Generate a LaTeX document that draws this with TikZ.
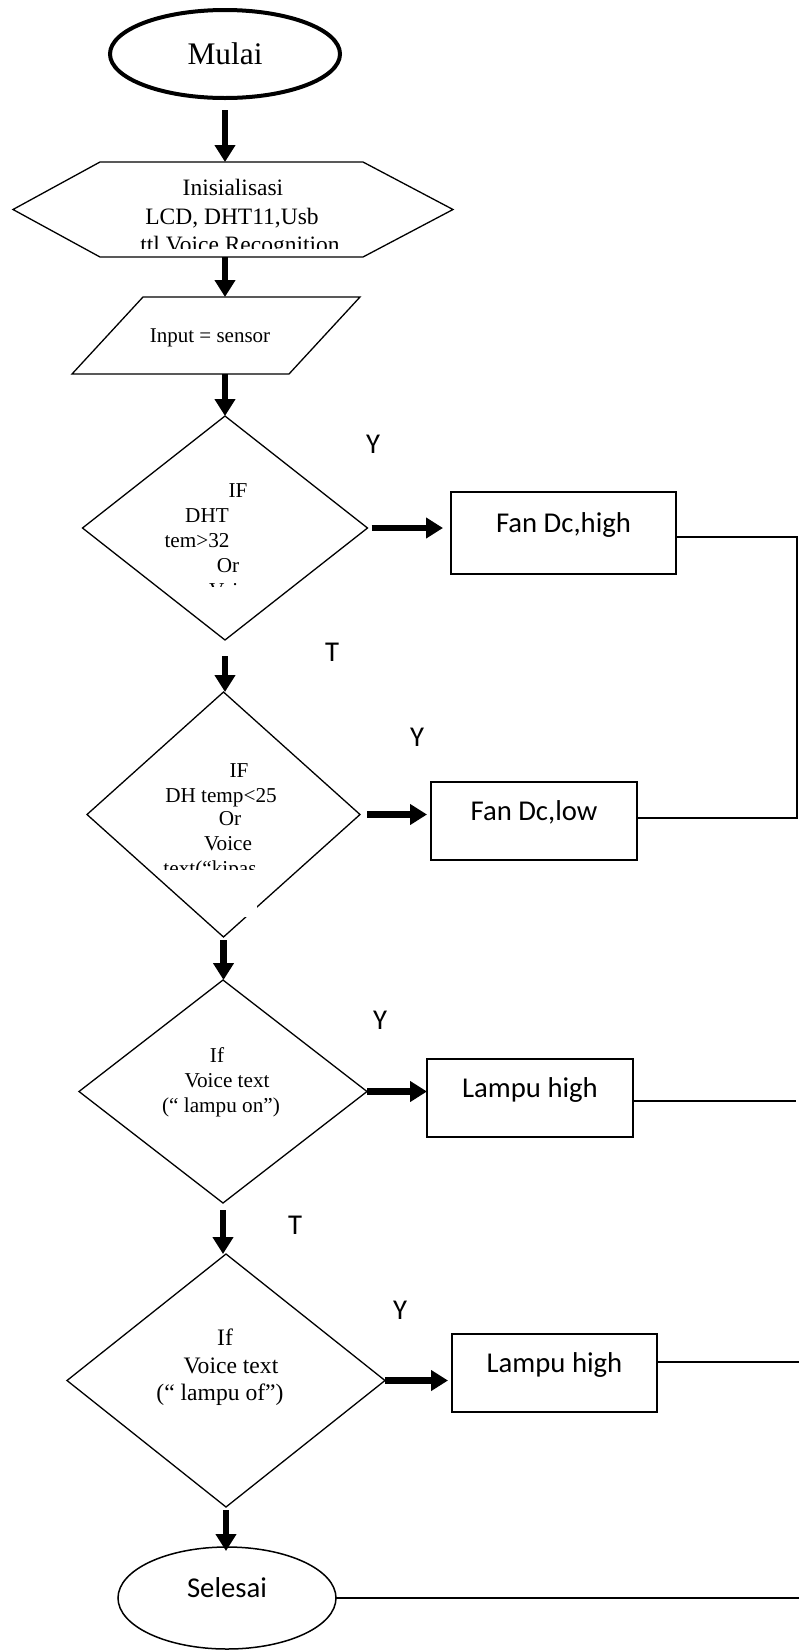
\documentclass[tikz,border=0pt]{standalone}
\usepackage{fontspec}
\setmainfont{Liberation Serif}
\newfontfamily\calibri{Carlito}
\usetikzlibrary{shapes.geometric,
	arrows.meta,
	calc,
	positioning}

\tikzset{
	flow/.style={line width=6.5pt, -{Triangle[width=20pt,length=17pt]}},
	wire/.style={line width=1.3pt},
	terminal/.style={draw, ellipse, inner sep=0pt, outer sep=0pt},
	procbox/.style={draw, rectangle, line width=1.5pt, inner sep=0pt, outer sep=0pt,
		font=\calibri\fontsize{28.7}{34}\selectfont, text height=22pt, text depth=24pt},
	decision/.style={draw, diamond, line width=1.3pt, inner sep=0pt, outer sep=0pt},
	frame/.style={inner sep=0pt, outer sep=0pt},
	dtext/.style={anchor=base, inner sep=0pt, font=\fontsize{21.2}{25}\selectfont},
	yt/.style={inner sep=0pt, font=\calibri\fontsize{28.7}{34}\selectfont},
}

\begin{document}
\begin{tikzpicture}[x=1pt, y=-1pt]
	\useasboundingbox (0,0) rectangle (799,1650);
	% start, init, input
	\node[terminal, line width=4pt, minimum width=230pt, minimum height=88pt,
		font=\fontsize{31.4}{36}\selectfont] (mulai) at (225,54) {Mulai};
	\node[frame, minimum width=440pt, minimum height=95pt] (init) at (233,209.5) {};
	\draw[wire] (init.west) -- ($(init.north west)+(87,0)$) -- ($(init.north east)+(-90,0)$)
		-- (init.east) -- ($(init.south east)+(-90,0)$) -- ($(init.south west)+(87,0)$) -- cycle;
	\node[dtext, font=\fontsize{23.5}{29}\selectfont] (initl1) at (233,195) {Inisialisasi};
	\node[dtext, font=\fontsize{23.5}{29}\selectfont] (initl2) at (232,224) {LCD, DHT11,Usb};
	\begin{scope}
		\clip (100,228) rectangle (400,248);
		\node[dtext, font=\fontsize{23.5}{29}\selectfont] (initl3) at (240,252) {ttl Voice Recognition};
	\end{scope}
	\node[frame, minimum width=288pt, minimum height=77pt] (input) at (216,335.5) {};
	\draw[wire] ($(input.north west)+(71,0)$) -- (input.north east)
		-- ($(input.south east)+(-71,0)$) -- (input.south west) -- cycle;
	\node[dtext, font=\fontsize{21}{25}\selectfont] (inputl) at (210,342) {Input = sensor};

	% decisions
	\node[decision, minimum width=285pt, minimum height=224pt] (cond1) at (225,528) {};
	\node[decision, minimum width=273pt, minimum height=245pt] (cond2) at (223.5,814.5) {};
	\node[decision, minimum width=288pt, minimum height=223pt] (cond3) at (223,1091.5) {};
	\node[decision, minimum width=318pt, minimum height=253pt] (cond4) at (226,1380.5) {};
	\fill[white] (245,906) rectangle (257,917);

	\foreach \x/\y/\t [count=\i] in {238/497/IF, 207/522/DHT, 197/547/tem>32, 228/572/Or}
		\node[dtext] (cond1l\i) at (\x,\y) {\t};
	\begin{scope}
		\clip (150,575) rectangle (300,586);
		\node[dtext] (cond1l5) at (233,597) {Voice};
	\end{scope}
	\foreach \x/\y/\t [count=\i] in {239/777/IF, 221/802/DH temp<25, 230/825/Or, 228/850/Voice}
		\node[dtext] (cond2l\i) at (\x,\y) {\t};
	\begin{scope}
		\clip (150,855) rectangle (300,869);
		\node[dtext] (cond2l5) at (210,875) {text(“kipas};
	\end{scope}
	\foreach \x/\y/\t [count=\i] in {217/1062/If, 227/1087/Voice text, 221/1112/{(“ lampu on”)}}
		\node[dtext] (cond3l\i) at (\x,\y) {\t};
	\foreach \x/\y/\t [count=\i] in {225/1345/If, 231/1373/Voice text, 220/1400/{(“ lampu of”)}}
		\node[dtext, font=\fontsize{23.6}{28}\selectfont] (cond4l\i) at (\x,\y) {\t};

	% actions and end
	\node[procbox, minimum width=225pt, minimum height=82pt] (fanhigh) at (563.5,533) {Fan Dc,high};
	\node[procbox, minimum width=206pt, minimum height=78pt] (fanlow) at (534,821) {Fan Dc,low};
	\node[procbox, minimum width=206pt, minimum height=78pt] (lampuon) at (530,1098) {Lampu high};
	\node[procbox, minimum width=205pt, minimum height=78pt] (lampuoff) at (554.5,1373) {Lampu high};
	\node[terminal, line width=1.5pt, minimum width=218pt, minimum height=102pt,
		font=\calibri\fontsize{28.7}{34}\selectfont, text height=22pt, text depth=24pt] (selesai) at (227,1598) {Selesai};

	% Y / T
	\node[yt] (ycond1) at (373,444) {Y};
	\node[yt] (tcond1) at (332,652) {T};
	\node[yt] (ycond2) at (417,737) {Y};
	\node[yt] (ycond3) at (380,1020) {Y};
	\node[yt] (tcond3) at (295,1225) {T};
	\node[yt] (ycond4) at (400,1310) {Y};

	% flow arrows
	\draw[flow, shorten <=12pt] (mulai.south) -- (mulai.south |- init.north);
	\draw[flow] (mulai |- init.south) -- (mulai |- input.north);
	\draw[flow] (cond1.north |- input.south) -- (cond1.north);
	\draw[flow, shorten <=16pt] (cond1.south) -- (cond1.south |- cond2.north);
	\draw[flow, shorten <=3pt] (cond2.south) -- (cond2.south |- cond3.north);
	\draw[flow, shorten <=7pt] (cond3.south) -- (cond3.south |- cond4.north);
	\draw[flow, shorten <=3pt, shorten >=-4pt] (cond4.south) -- (cond4.south |- selesai.north);
	\draw[flow, shorten <=4pt, shorten >=8pt] (cond1.east) -- (cond1.east -| fanhigh.west);
	\draw[flow, shorten <=7pt, shorten >=4pt] (cond2.east) -- (cond2.east -| fanlow.west);
	\draw[flow] (cond3.east) -- (cond3.east -| lampuon.west);
	\draw[flow, shorten >=4pt] (cond4.east) -- (cond4.east -| lampuoff.west);

	% lines to the right edge
	\coordinate (railtop) at (797,537);
	\coordinate (railbot) at (797,818);
	\coordinate (lampuonend) at (796,1101);
	\coordinate (lampuoffend) at (799,1362);
	\coordinate (selesaiend) at (799,1598);
	\draw[wire] (fanhigh.east |- railtop) -- (railtop) -- (railbot) -- (fanlow.east |- railbot);
	\draw[wire] (lampuon.east |- lampuonend) -- (lampuonend);
	\draw[wire] (lampuoff.east |- lampuoffend) -- (lampuoffend);
	\draw[wire] (selesai.east) -- (selesaiend);
\end{tikzpicture}
\end{document}
